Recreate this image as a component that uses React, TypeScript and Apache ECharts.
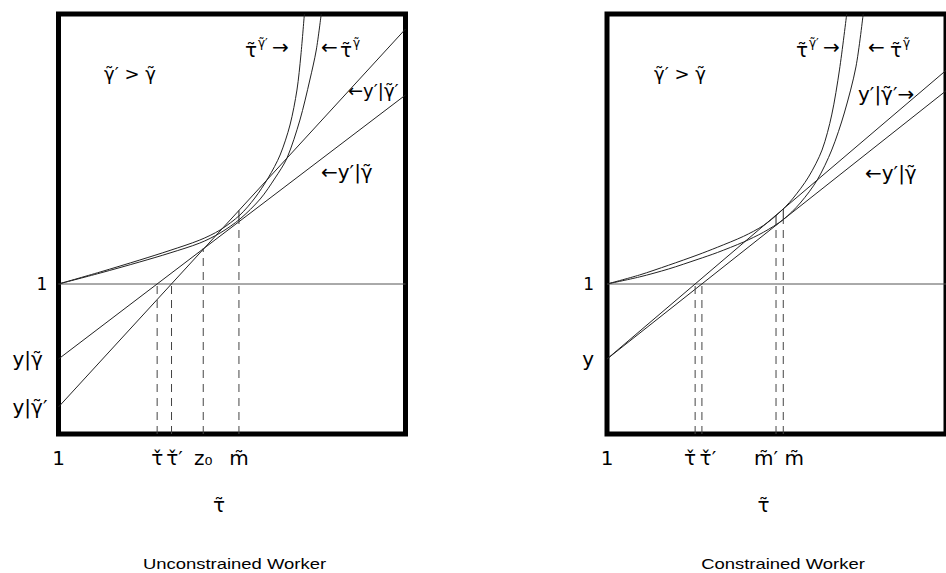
import React, { useEffect, useRef } from "react";
import * as echarts from "echarts";

// Symbols built from combining marks
const TAU = "\u03C4\u0303"; // τ̃
const GAM = "\u03B3\u0303"; // γ̃
const PR = "\u2032"; // ′
const TAU_CHECK = "\u03C4\u030C"; // τ̌
const M_TILDE = "m\u0303"; // m̃

// Shared axis ranges
const X_MIN = 1;
const X_MAX = 8;
const Y_MIN = 0;
const Y_MAX = 2.8;

// ---- Unconstrained worker ----
const uTauGammaPrime: number[][] = [
  [1, 1], [1.84, 1.08], [2.64, 1.16], [3.25, 1.224], [3.85, 1.293], [4.26, 1.36],
  [4.66, 1.46], [4.96, 1.573], [5.23, 1.707], [5.47, 1.86], [5.67, 2.06], [5.81, 2.293],
  [5.89, 2.527], [5.96, 2.8],
];
const uTauGamma: number[][] = [
  [1, 1], [1.84, 1.073], [2.64, 1.147], [3.25, 1.207], [3.85, 1.273], [4.26, 1.34],
  [4.66, 1.433], [5.07, 1.567], [5.37, 1.707], [5.61, 1.84], [5.87, 2.093], [6.07, 2.36],
  [6.2, 2.56], [6.3, 2.8],
];
const uLineGamma: number[][] = [[1, 0.5], [8, 2.26]];
const uLineGammaPrime: number[][] = [[1, 0.18], [8, 2.7]];
const uDropX = [2.99, 3.28, 3.92, 4.64];
const uDropTop = [1, 1, 1.24, 1.415];
const uJoinX = [4.64];
const uJoinLow = [1.415];
const uJoinHigh = [1.49];
const uXTickValues = [1, 2.99, 3.28, 3.92, 4.64];
const uXTickLabels = ["1", TAU_CHECK, TAU_CHECK + PR, "z\u2080", M_TILDE];
const uYTickValues = [0.18, 0.5, 1];
const uYTickLabels = ["y|" + GAM + PR, "y|" + GAM, "1"];

// ---- Constrained worker ----
const cTauGammaPrime: number[][] = [
  [1, 1], [1.67, 1.06], [2.27, 1.125], [2.88, 1.195], [3.28, 1.245], [3.82, 1.318],
  [4.23, 1.39], [4.55, 1.473], [4.83, 1.567], [5.16, 1.713], [5.44, 1.893], [5.64, 2.127],
  [5.8, 2.427], [5.95, 2.8],
];
const cTauGamma: number[][] = [
  [1, 1], [1.67, 1.047], [2.27, 1.1], [2.88, 1.165], [3.28, 1.21], [3.82, 1.28],
  [4.23, 1.345], [4.63, 1.427], [4.99, 1.54], [5.34, 1.693], [5.64, 1.893], [5.9, 2.14],
  [6.14, 2.447], [6.29, 2.8],
];
const cLineGammaPrime: number[][] = [[1, 0.5], [8, 2.424]];
const cLineGamma: number[][] = [[1, 0.5], [8, 2.288]];
const cDropX = [2.82, 2.96, 4.49, 4.64];
const cDropTop = [1, 1, 1.391, 1.43];
const cJoinX = [4.49, 4.64];
const cJoinLow = [1.391, 1.43];
const cJoinHigh = [1.459, 1.5];
const cXTickValues = [1, 2.82, 2.96, 4.49, 4.64];
const cXTickLabels = ["1", TAU_CHECK, TAU_CHECK + PR, M_TILDE + PR, M_TILDE];
const cYTickValues = [0.5, 1];
const cYTickLabels = ["y", "1"];

const MATH_FONT = "DejaVu Sans";
const INK = "#222";

function pick(values: number[], v: number): number {
  let best = 0;
  for (let i = 1; i < values.length; i++) {
    if (Math.abs(values[i] - v) < Math.abs(values[best] - v)) best = i;
  }
  return best;
}

function curve(data: number[][], idx: number) {
  return {
    type: "line", xAxisIndex: idx, yAxisIndex: idx, data, symbol: "none", showSymbol: false,
    smooth: 0.3, silent: true, z: 3, lineStyle: { color: INK, width: 1 },
  };
}

function straight(data: number[][], idx: number, color: string, dash?: number[]) {
  return {
    type: "line", xAxisIndex: idx, yAxisIndex: idx, data, symbol: "none", showSymbol: false,
    silent: true, z: 3, lineStyle: { color, width: 1, type: dash ? dash : "solid" },
  };
}

function drops(xs: number[], tops: number[], idx: number) {
  return xs.map((x, i) => straight([[x, Y_MIN], [x, tops[i]]], idx, "#444", [8, 6]));
}

function joins(xs: number[], lows: number[], highs: number[], idx: number) {
  return xs.map((x, i) => straight([[x, lows[i]], [x, highs[i]]], idx, INK));
}

const tickText = { fontFamily: MATH_FONT, fontSize: 20, color: "#000" };

function xAxisFor(idx: number, values: number[], labels: string[]) {
  // per-label nudges keep close neighbours apart
  const nudge: Record<string, number[]> = idx === 0
    ? { 2: [0, 0, 0, 6] }
    : { 1: [0, 10, 0, 0], 2: [0, 0, 0, 12], 3: [0, 20, 0, 0], 4: [0, 0, 0, 22] };
  const rich: Record<string, object> = {};
  Object.keys(nudge).forEach((k) => { rich["n" + k] = { ...tickText, padding: nudge[k] }; });
  return {
    gridIndex: idx, type: "value", min: X_MIN, max: X_MAX,
    axisLine: { show: false }, axisTick: { show: false }, splitLine: { show: false },
    axisLabel: {
      customValues: values,
      margin: 14,
      ...tickText,
      formatter: (v: number) => {
        const i = pick(values, v);
        return nudge[i] ? "{n" + i + "|" + labels[i] + "}" : labels[i];
      },
      rich,
    },
    name: TAU,
    nameLocation: "middle",
    nameGap: 61,
    nameTextStyle: { fontFamily: MATH_FONT, fontSize: 20, color: "#000", padding: [0, 26, 0, 0] },
  };
}

function yAxisFor(idx: number, values: number[], labels: string[]) {
  const left = idx === 0;
  return {
    gridIndex: idx, type: "value", min: Y_MIN, max: Y_MAX,
    axisLine: { show: false }, axisTick: { show: false }, splitLine: { show: false },
    axisLabel: {
      customValues: values,
      margin: left ? 46 : 13,
      align: left ? "left" : "right",
      ...tickText,
      formatter: (v: number) => {
        const s = labels[pick(values, v)];
        return s === "1" ? (left ? "{one|1}" : "{oneR|1}") : s;
      },
      rich: {
        one: { fontFamily: MATH_FONT, fontSize: 17, color: "#000", padding: [0, 0, 0, 24] },
        oneR: { fontFamily: MATH_FONT, fontSize: 17, color: "#000" },
      },
    },
  };
}

function note(x: number, y: number, text: string, size = 20, align = "left") {
  return {
    type: "text", x, y, silent: true, z: 10,
    style: { text, fontFamily: MATH_FONT, fontSize: size, fill: "#000", align, verticalAlign: "middle" },
  };
}

function caption(x: number, y: number, text: string) {
  return {
    type: "text", x, y, scaleX: 1.23, silent: true, z: 10,
    style: { text, fontFamily: "Liberation Sans", fontSize: 15, fill: "#000", align: "center", verticalAlign: "middle" },
  };
}

export default function App() {
  const ref = useRef<HTMLDivElement>(null);

  useEffect(() => {
    if (!ref.current) return;
    const chart = echarts.init(ref.current, null, { renderer: "svg" });

    const gridBox = { top: 14, width: 347, height: 420, show: true, borderColor: "#000", borderWidth: 5, backgroundColor: "transparent" };

    chart.setOption({
      animation: false,
      backgroundColor: "#fff",
      grid: [
        { ...gridBox, left: 58.5 },
        { ...gridBox, left: 607 },
      ],
      xAxis: [xAxisFor(0, uXTickValues, uXTickLabels), xAxisFor(1, cXTickValues, cXTickLabels)],
      yAxis: [yAxisFor(0, uYTickValues, uYTickLabels), yAxisFor(1, cYTickValues, cYTickLabels)],
      series: [
        // Unconstrained panel
        straight([[X_MIN, 1], [X_MAX, 1]], 0, "#555"),
        curve(uTauGammaPrime, 0),
        curve(uTauGamma, 0),
        straight(uLineGamma, 0, INK),
        straight(uLineGammaPrime, 0, INK),
        ...drops(uDropX, uDropTop, 0),
        ...joins(uJoinX, uJoinLow, uJoinHigh, 0),
        // Constrained panel
        straight([[X_MIN, 1], [X_MAX, 1]], 1, "#555"),
        curve(cTauGammaPrime, 1),
        curve(cTauGamma, 1),
        straight(cLineGammaPrime, 1, INK),
        straight(cLineGamma, 1, INK),
        ...drops(cDropX, cDropTop, 1),
        ...joins(cJoinX, cJoinLow, cJoinHigh, 1),
      ],
      graphic: [
        // Unconstrained panel annotations
        note(130, 73, GAM + PR + " > " + GAM, 18, "center"),
        note(245, 50, TAU),
        note(258, 43, GAM + PR, 12),
        note(272, 47, "\u2192"),
        note(321, 47, "\u2190"),
        note(340, 50, TAU),
        note(353, 43, GAM, 12),
        note(348, 90, "\u2190y" + PR + "|" + GAM + PR, 18),
        note(321, 172, "\u2190y" + PR + "|" + GAM),
        // Constrained panel annotations
        note(680, 73, GAM + PR + " > " + GAM, 18, "center"),
        note(796, 50, TAU),
        note(809, 43, GAM + PR, 12),
        note(823, 47, "\u2192"),
        note(868, 47, "\u2190"),
        note(890, 50, TAU),
        note(903, 43, GAM, 12),
        note(858, 94, "y" + PR + "|" + GAM + PR + "\u2192"),
        note(865, 173, "\u2190y" + PR + "|" + GAM),
        // Panel captions
        caption(234.5, 564, "Unconstrained Worker"),
        caption(783, 564, "Constrained Worker"),
      ],
    });

    return () => chart.dispose();
  }, []);

  return (
    <div
      ref={ref}
      style={{ position: "absolute", left: 0, top: 0, width: 946, height: 573, background: "#fff" }}
    />
  );
}
